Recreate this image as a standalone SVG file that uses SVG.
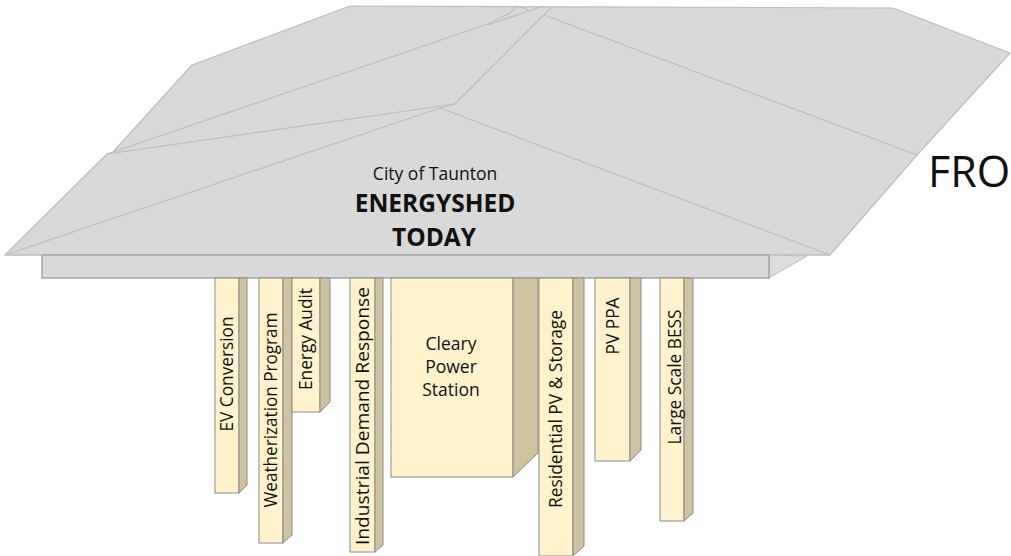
<svg xmlns="http://www.w3.org/2000/svg" width="1011" height="556" viewBox="0 0 1011 556">
  <style>
    .roof { fill: #d9d9d9; stroke: #bdbdbd; stroke-width: 1.2; stroke-linejoin: round; }
    .ridge { fill: none; stroke: #bdbdbd; stroke-width: 1.2; stroke-linejoin: round; }
    .fascia { fill: #d9d9d9; stroke: #a6a6a6; stroke-width: 1.5; }
    .front { fill: #fff2cc; stroke: #8a8a8a; stroke-width: 1; }
    .side { fill: #cfc2a0; stroke: #8a8a8a; stroke-width: 1; stroke-linejoin: round; }
    .lbl { font-family: "Open Sans", "Liberation Sans", sans-serif; font-size: 17.5px; fill: #111; text-anchor: middle; }
    .title { font-family: "Open Sans", "Liberation Sans", sans-serif; fill: #111; text-anchor: middle; }
  </style>

  <!-- roof -->
  <g id="roof">
    <polygon class="roof" points="5,255 107,154 113,152 192,65 350,6 893,8 1010,53 917,155 830,255"/>
    <polyline class="ridge" points="113,152 488,24 510,13 517,6"/>
    <polyline class="ridge" points="488,25 543,6"/>
    <polyline class="ridge" points="107,154 455,104"/>
    <polyline class="ridge" points="5,255 440,108 455,104 553,6"/>
    <polyline class="ridge" points="440,108 830,255"/>
    <polyline class="ridge" points="544,15 917,155"/>
    <polyline class="ridge" points="517,6 528,10"/>
    <line class="ridge" x1="5" y1="255" x2="830" y2="255"/>
  </g>

  <!-- eave board -->
  <g id="eave">
    <polygon points="769,255 807,256 769,278" fill="#dcdcdc" stroke="#bdbdbd" stroke-width="1"/>
    <rect class="fascia" x="42" y="255" width="727" height="23"/>
  </g>

  <!-- roof title -->
  <g id="title">
    <text class="title" x="435" y="180" font-size="17.5">City of Taunton</text>
    <text class="title" x="435" y="212" font-size="24.5" font-weight="bold">ENERGYSHED</text>
    <text class="title" x="434" y="246" font-size="24.5" font-weight="bold">TODAY</text>
  </g>

  <text x="928" y="187" font-family="Open Sans, Liberation Sans, sans-serif" font-size="43" fill="#111">FRO</text>

  <!-- pillars -->
  <g id="ev-conversion">
    <rect class="front" x="215" y="278" width="24" height="215"/>
    <polygon class="side" points="239,278 247,278 247,485 239,493"/>
    <text class="lbl" transform="translate(233,374) rotate(-90)" textLength="115" lengthAdjust="spacingAndGlyphs">EV Conversion</text>
  </g>

  <g id="weatherization-program">
    <rect class="front" x="259" y="278" width="24" height="265"/>
    <polygon class="side" points="283,278 292,278 292,535 283,543"/>
    <text class="lbl" transform="translate(277,410) rotate(-90)" textLength="195" lengthAdjust="spacingAndGlyphs">Weatherization Program</text>
  </g>

  <g id="energy-audit">
    <rect class="front" x="292" y="278" width="28" height="134"/>
    <polygon class="side" points="320,278 330,278 330,402 320,412"/>
    <text class="lbl" transform="translate(312,339) rotate(-90)" textLength="102" lengthAdjust="spacingAndGlyphs">Energy Audit</text>
  </g>

  <g id="industrial-demand-response">
    <rect class="front" x="350" y="278" width="25" height="274"/>
    <polygon class="side" points="375,278 383,278 383,545 375,552"/>
    <text class="lbl" transform="translate(369,416) rotate(-90)" textLength="258" lengthAdjust="spacingAndGlyphs">Industrial Demand Response</text>
  </g>

  <g id="cleary-power-station">
    <rect class="front" x="391" y="278" width="122" height="199"/>
    <polygon class="side" points="513,278 538,278 538,453 513,477"/>
    <text class="lbl" x="451" y="350">Cleary</text>
    <text class="lbl" x="451" y="373">Power</text>
    <text class="lbl" x="451" y="396">Station</text>
  </g>

  <g id="residential-pv-storage">
    <rect class="front" x="539" y="278" width="34" height="278"/>
    <polygon class="side" points="573,278 584,278 584,546 573,556"/>
    <text class="lbl" transform="translate(562,409) rotate(-90)" textLength="198" lengthAdjust="spacingAndGlyphs">Residential PV &amp; Storage</text>
  </g>

  <g id="pv-ppa">
    <rect class="front" x="595" y="278" width="35" height="183"/>
    <polygon class="side" points="630,278 641,278 641,450 630,461"/>
    <text class="lbl" transform="translate(619,326) rotate(-90)" textLength="57" lengthAdjust="spacingAndGlyphs">PV PPA</text>
  </g>

  <g id="large-scale-bess">
    <rect class="front" x="660" y="278" width="24" height="243"/>
    <polygon class="side" points="684,278 693,278 693,513 684,521"/>
    <text class="lbl" transform="translate(681,377) rotate(-90)" textLength="135" lengthAdjust="spacingAndGlyphs">Large Scale BESS</text>
  </g>
</svg>
